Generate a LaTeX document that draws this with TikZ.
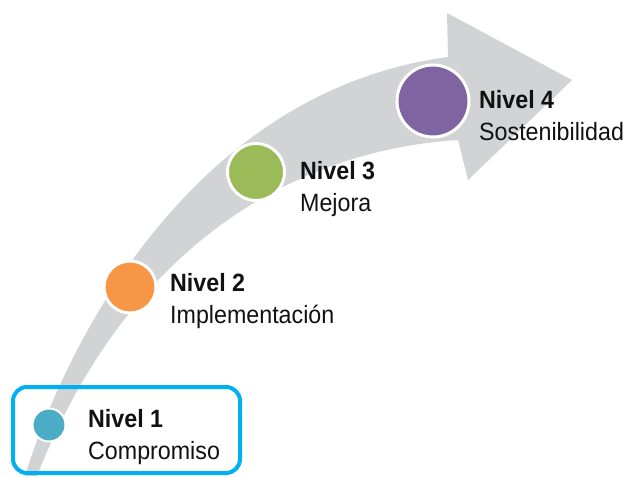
\documentclass[tikz,border=0pt]{standalone}
\usepackage{fontspec}
\setmainfont[FakeStretch=0.93]{Liberation Sans}
\usetikzlibrary{positioning}
\definecolor{Band}{HTML}{D1D3D4}
\definecolor{Teal}{HTML}{4BACC6}
\definecolor{Orange}{HTML}{F79646}
\definecolor{Olive}{HTML}{9BBB59}
\definecolor{Violet}{HTML}{8064A2}
\definecolor{Sky}{HTML}{00B0F0}
\definecolor{Ink}{HTML}{111111}
\tikzset{
  stage/.style={
    circle, draw=white, line width=3pt, inner sep=0pt
  },
  leveltitle/.style={
    anchor=base west, inner sep=0pt, text=Ink,
    font=\fontsize{25pt}{30pt}\selectfont\bfseries
  },
  leveltext/.style={
    anchor=base west, inner sep=0pt, text=Ink,
    font=\fontsize{25pt}{30pt}\selectfont
  },
  frame/.style={
    draw=Sky, line width=4pt, rounded corners=14pt,
    minimum width=227pt, minimum height=86pt
  }
}

\begin{document}
\begin{tikzpicture}[x=1pt,y=-1pt]
    \useasboundingbox (0,0) rectangle (628,476);
    % curved arrow
    \fill[Band] (25,476) .. controls (70,330) and (200,90) .. (448,57)
      -- (447,13) -- (572,80) -- (468,180) -- (458,140)
      .. controls (300,150) and (130,240) .. (37,476) -- cycle;
    \node[frame] (box1) at (126.5,430) {};
    % stages
    \node[stage, fill=Teal, minimum size=33pt, line width=2pt] (c1) at (49,425) {};
    \node[stage, fill=Orange, minimum size=52pt] (c2) at (130,287) {};
    \node[stage, fill=Olive, minimum size=57pt] (c3) at (256,172) {};
    \node[stage, fill=Violet, minimum size=72pt] (c4) at (433,101) {};
    % labels
    \node[leveltitle] (n1) at (88,427) {Nivel 1};
    \node[leveltext] (d1) at ([yshift=-32pt]n1.base west) {Compromiso};
    \node[leveltitle] (n2) at (170,291) {Nivel 2};
    \node[leveltext] (d2) at ([yshift=-32pt]n2.base west) {Implementación};
    \node[leveltitle] (n3) at (300,179) {Nivel 3};
    \node[leveltext] (d3) at ([yshift=-32pt]n3.base west) {Mejora};
    \node[leveltitle] (n4) at (479,109) {Nivel 4};
    \node[leveltext] (d4) at ([yshift=-31pt]n4.base west) {Sostenibilidad};
  \end{tikzpicture}
\end{document}
